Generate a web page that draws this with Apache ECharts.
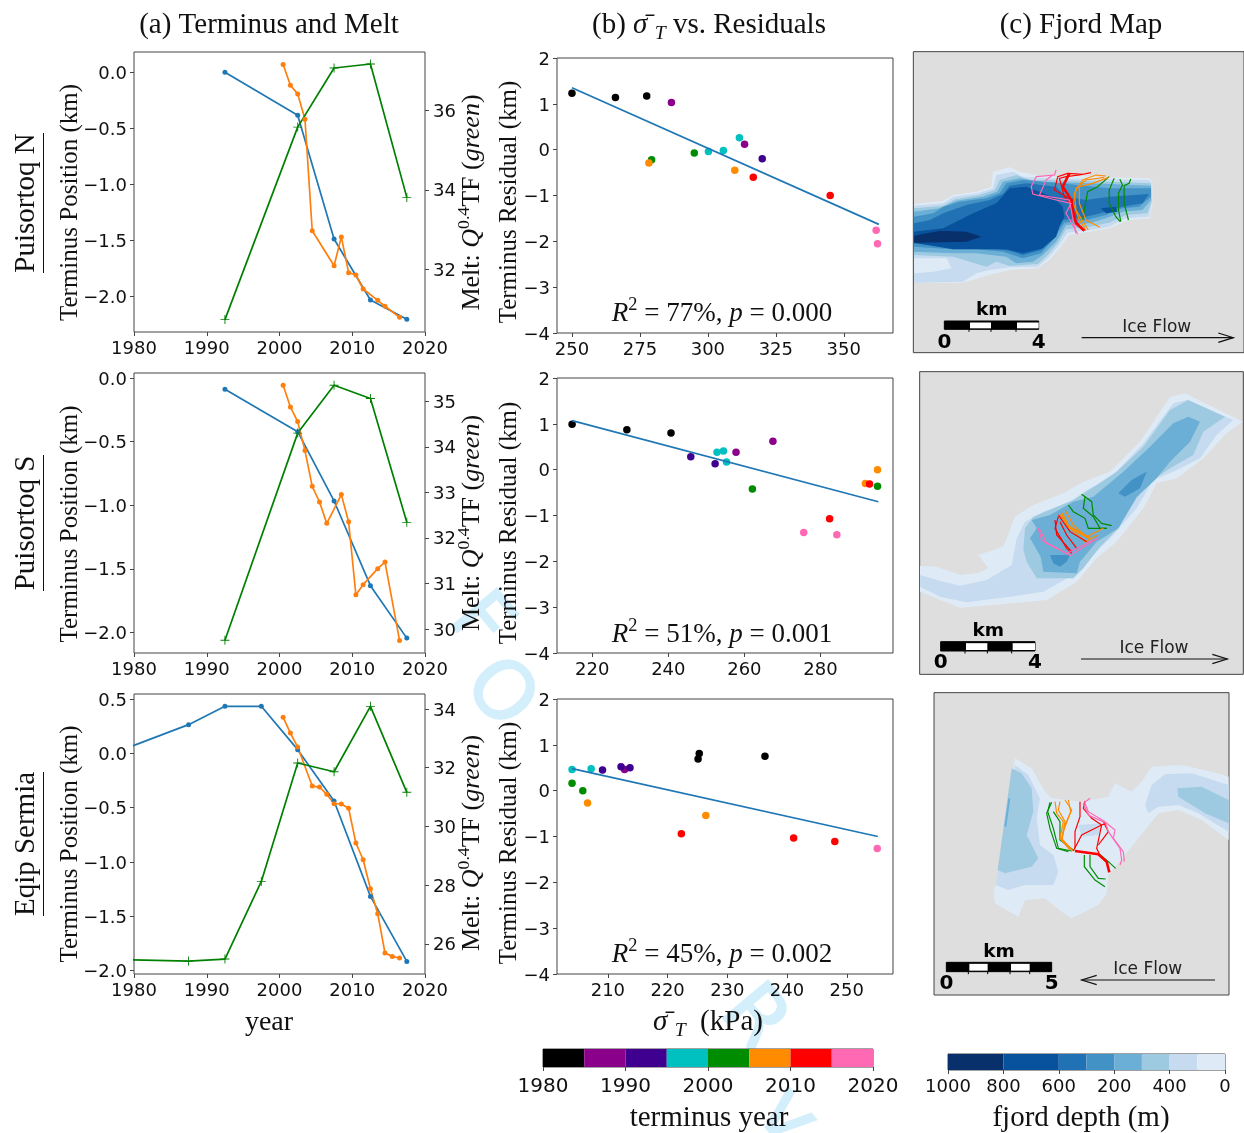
<!DOCTYPE html>
<html>
<head>
<meta charset="utf-8">
<style>html,body{margin:0;padding:0;background:#fff}#chart{width:1244px;height:1133px}</style>
<script src="https://cdn.jsdelivr.net/npm/echarts@6/dist/echarts.min.js"></script>
</head>
<body>
<div id="chart"></div>
<script>
// colour scales
var yearEdges = [1980, 1985, 1990, 1995, 2000, 2005, 2010, 2015, 2020];
var yearColors = ['#000000', '#8b008b', '#3f0090', '#00c0c0', '#008c00', '#ff8c00', '#ff0000', '#ff69b4'];
var depthEdges = [0, 1, 2, 2.5, 3, 3.5, 4, 4.5, 5];
var depthColors = ['#08306b', '#08519c', '#2171b5', '#4292c6', '#6baed6', '#9ecae1', '#c6dbef', '#deebf7'];
var depthTickLabels = ['1000', '800', '600', '200', '400', '0'];

// (a) terminus position and melt
var blueYearsN = [1992.5, 2002.5, 2007.5, 2012.5, 2017.5];
var blueN = [0, -0.383, -1.489, -2.033, -2.205];
var orangeYearsN = [2000.5, 2001.5, 2002.5, 2003.5, 2004.5, 2007.5, 2008.5, 2009.5, 2010.5, 2011.5, 2013.5, 2014.5, 2016.5];
var orangeN = [0.07, -0.116, -0.193, -0.419, -1.415, -1.727, -1.47, -1.789, -1.81, -1.935, -2.036, -2.089, -2.187];
var greenN = [30.75, 35.57, 37.05, 37.15, 33.81];

var blueYearsS = [1992.5, 2002.5, 2007.5, 2012.5, 2017.5];
var blueS = [-0.089, -0.422, -0.967, -1.633, -2.045];
var orangeYearsS = [2000.5, 2001.5, 2002.5, 2003.5, 2004.5, 2005.5, 2006.5, 2008.5, 2009.5, 2010.5, 2011.5, 2013.5, 2014.5, 2016.5];
var orangeS = [-0.058, -0.228, -0.343, -0.571, -0.852, -0.975, -1.143, -0.917, -1.13, -1.704, -1.625, -1.499, -1.447, -2.063];
var greenS = [29.75, 34.3, 35.35, 35.06, 32.34];

var blueYearsE = [1977.5, 1987.5, 1992.5, 1997.5, 2002.5, 2007.5, 2012.5, 2017.5];
var blueE = [0.01, 0.264, 0.433, 0.433, 0.034, -0.439, -1.316, -1.914];
var orangeYearsE = [2000.5, 2001.5, 2002.5, 2004.5, 2005.5, 2006.5, 2007.5, 2008.5, 2009.5, 2010.5, 2011.5, 2012.5, 2013.5, 2014.5, 2015.5, 2016.5];
var orangeE = [0.331, 0.187, 0.058, -0.301, -0.31, -0.377, -0.463, -0.466, -0.506, -0.825, -0.979, -1.245, -1.475, -1.837, -1.868, -1.883];
var greenE = [25.46, 25.41, 25.48, 28.125, 32.16, 31.86, 34.09, 31.16];

// (b) stress vs residuals
var stressN = [250, 266, 277.5, 286.6, 313.5, 320, 300.2, 305.7, 311.6, 295, 279.3, 278.3, 309.9, 316.7, 345, 361.9, 362.4];
var residN = [1.23, 1.14, 1.17, 1.03, 0.12, -0.2, -0.04, -0.02, 0.26, -0.07, -0.22, -0.29, -0.45, -0.6, -1, -1.76, -2.05];
var stressYearsN = [1982, 1982, 1982, 1987, 1987, 1992, 1997, 1997, 1997, 2002, 2002, 2007, 2007, 2012, 2012, 2017, 2017];
var fitXN = [250, 362.9];
var fitYN = [1.35, -1.63];

var stressS = [214.7, 229.1, 240.7, 257.8, 267.5, 245.9, 252.3, 252.8, 254.5, 255.3, 262.1, 295, 291.8, 295, 292.9, 282.4, 275.6, 284.3];
var residS = [0.99, 0.87, 0.8, 0.38, 0.62, 0.28, 0.13, 0.38, 0.41, 0.17, -0.42, -0.36, -0.3, 0, -0.31, -1.07, -1.37, -1.42];
var stressYearsS = [1982, 1982, 1982, 1987, 1987, 1992, 1992, 1997, 1997, 1997, 2002, 2002, 2007, 2007, 2012, 2012, 2017, 2017];
var fitXS = [214.7, 295.2];
var fitYS = [1.07, -0.7];

var stressE = [225.3, 225.1, 236.3, 212.8, 209.1, 212.2, 213.7, 204, 207.2, 204, 205.8, 206.6, 226.4, 222.3, 241.1, 248, 255.1];
var residE = [0.81, 0.69, 0.75, 0.46, 0.45, 0.52, 0.5, 0.46, 0.48, 0.16, 0, -0.27, -0.54, -0.94, -1.03, -1.11, -1.26];
var stressYearsE = [1982, 1982, 1982, 1987, 1992, 1992, 1992, 1997, 1997, 2002, 2002, 2007, 2007, 2012, 2012, 2012, 2017];
var fitXE = [204, 255.2];
var fitYE = [0.48, -1];

// (c) fjord depth bands, painted shallow to deep (band index into depthColors)
var bandsN = [7, 6, 7, 5, 4, 3, 2, 1, 1, 0];
var polysN = [
  [[12,492],[100,482],[130,465],[200,455],[245,440],[250,395],[300,382],[330,395],[380,405],[420,408],[460,410],[520,408],[600,412],[720,415],[730,425],[730,490],[722,535],[660,540],[600,565],[540,575],[480,585],[455,620],[420,660],[385,685],[300,690],[240,705],[160,728],[12,728]],
  [[12,497],[100,490],[130,470],[205,460],[250,445],[260,405],[310,395],[340,410],[420,415],[600,418],[720,420],[728,430],[728,488],[720,530],[650,535],[600,560],[540,570],[475,578],[450,615],[415,655],[385,680],[300,682],[240,690],[200,700],[160,725],[12,728]],
  [[12,655],[110,655],[125,685],[70,695],[12,700]],
  [[12,505],[100,497],[135,478],[210,465],[255,450],[270,420],[320,405],[360,420],[420,420],[600,425],[725,430],[728,485],[715,520],[650,525],[600,548],[540,560],[470,568],[445,610],[410,650],[385,672],[300,678],[260,665],[230,680],[130,650],[12,645]],
  [[12,515],[90,505],[140,482],[220,470],[262,455],[280,425],[330,415],[400,425],[600,432],[726,437],[726,480],[700,510],[640,515],[590,535],[540,550],[470,555],[440,605],[400,645],[370,665],[320,670],[290,650],[200,640],[130,640],[12,635]],
  [[12,530],[70,520],[100,500],[150,485],[230,475],[270,460],[290,430],[340,420],[450,430],[600,445],[726,445],[726,470],[690,500],[640,505],[590,525],[530,540],[465,548],[430,600],[395,640],[340,655],[310,645],[280,635],[200,628],[130,628],[12,620]],
  [[12,550],[60,540],[100,520],[170,495],[240,480],[280,462],[300,437],[350,430],[440,440],[470,470],[530,480],[600,470],[720,462],[700,490],[640,500],[590,515],[530,530],[460,540],[430,590],[395,630],[340,645],[300,632],[200,620],[130,625],[12,610]],
  [[12,575],[100,565],[190,520],[260,490],[300,445],[350,440],[430,470],[460,500],[465,530],[450,560],[440,590],[400,625],[340,640],[290,628],[130,628],[12,608]],
  [[575,505],[620,500],[625,515],[590,520]],
  [[12,587],[90,572],[170,575],[215,590],[170,605],[12,608]]
];
var bandsS = [7, 6, 5, 4, 3, 3];
var polysS = [
  [[30,603],[80,605],[150,630],[200,625],[235,610],[205,570],[280,545],[315,455],[370,420],[460,385],[520,350],[600,320],[690,230],[780,95],[825,85],[998,170],[950,205],[880,280],[800,340],[740,355],[700,430],[620,530],[560,580],[500,650],[410,705],[250,720],[150,728],[30,680]],
  [[30,630],[100,650],[150,662],[230,645],[305,600],[320,520],[345,470],[400,440],[480,410],[530,375],[600,340],[700,235],[790,115],[830,105],[970,165],[920,210],[870,280],[790,320],[730,345],[680,430],[610,510],[550,570],[480,635],[400,680],[300,695],[170,712],[90,695],[30,665]],
  [[340,555],[345,490],[370,455],[490,405],[545,370],[620,320],[700,245],[780,135],[835,105],[945,155],[880,200],[850,270],[780,310],[730,345],[680,400],[625,490],[570,545],[520,610],[490,640],[380,640],[350,590]],
  [[365,465],[420,450],[490,410],[550,395],[640,320],[720,245],[790,175],[835,155],[870,170],[840,230],[780,290],[735,345],[680,395],[625,490],[560,530],[510,590],[500,625],[400,620],[392,575],[360,520],[380,490]],
  [[420,570],[480,570],[470,590],[450,605],[430,595]],
  [[625,385],[665,345],[710,320],[690,370],[645,395]]
];
var bandsE = [7, 6, 6, 6, 5, 5, 4];
var polysE = [
  [[205,620],[215,590],[270,220],[320,250],[360,320],[380,340],[470,350],[550,335],[570,295],[620,320],[650,290],[680,245],[770,240],[860,260],[911,275],[911,465],[830,405],[760,375],[700,385],[660,435],[600,510],[550,570],[545,625],[520,660],[440,700],[410,680],[360,640],[300,645],[280,695],[210,655]],
  [[212,600],[225,520],[270,240],[310,270],[345,340],[335,400],[345,480],[385,510],[400,560],[385,600],[300,600],[250,615]],
  [[660,360],[680,300],[720,268],[800,265],[911,300],[911,440],[820,385],[760,360],[700,365],[670,385]],
  [[460,420],[530,415],[520,450],[470,455]],
  [[218,555],[260,250],[290,265],[320,310],[325,380],[305,450],[340,520],[320,545],[240,565]],
  [[757,310],[830,305],[911,345],[911,415],[840,385],[760,335]],
  [[238,425],[250,340],[256,340],[244,425]]
];

// (c) terminus traces
var traceYearsN = [2002, 2002, 2002, 2002, 2007, 2007, 2007, 2012, 2012, 2012, 2017, 2017];
var tracesN = [
  [[615,415],[600,450],[600,490],[620,530],[633,545]],
  [[632,418],[640,435],[628,460],[628,510],[635,545]],
  [[665,417],[660,430],[645,437],[645,490],[658,540]],
  [[600,410],[565,440],[535,455],[525,510],[520,540]],
  [[598,412],[550,430],[510,440],[510,490],[530,540],[572,562]],
  [[590,408],[560,405],[520,420],[495,460],[500,510],[537,570]],
  [[585,412],[530,420],[500,445],[492,490],[510,540],[530,572]],
  [[545,398],[510,405],[470,410],[450,415],[465,470],[490,500],[495,540],[525,572]],
  [[520,403],[475,400],[445,410],[435,450],[490,480],[490,530],[520,570]],
  [[480,400],[460,440],[480,470],[488,500],[500,550],[525,572]],
  [[440,390],[435,405],[380,410],[365,440],[370,462],[440,480],[485,490],[470,520],[505,582]],
  [[430,405],[410,420],[390,465],[480,480],[495,560],[500,580]]
];
var traceYearsS = [2002, 2002, 2002, 2007, 2007, 2007, 2012, 2012, 2012, 2012, 2017, 2017];
var tracesS = [
  [[515,388],[545,410],[550,450],[575,475],[605,482]],
  [[525,395],[520,430],[550,455],[570,490],[590,490]],
  [[475,420],[490,440],[525,460],[535,490],[590,490]],
  [[465,435],[490,480],[530,515],[580,490]],
  [[450,450],[480,490],[525,530],[565,510]],
  [[455,445],[475,485],[540,520]],
  [[445,455],[435,490],[470,550],[485,565]],
  [[435,465],[440,510],[485,560]],
  [[450,470],[470,510],[500,550]],
  [[445,450],[480,500],[530,530]],
  [[385,490],[395,525],[480,572],[565,518]],
  [[390,495],[410,535],[470,565],[550,525]]
];
var traceYearsE = [2002, 2002, 2002, 2002, 2002, 2002, 2007, 2007, 2007, 2007, 2012, 2012, 2012, 2012, 2012, 2017, 2017];
var tracesE = [
  [[375,352],[368,380],[385,430],[400,490],[440,498]],
  [[380,352],[365,385],[375,430],[395,490],[430,500]],
  [[385,380],[405,410],[405,465],[445,495]],
  [[478,510],[478,545],[510,585],[540,605]],
  [[495,510],[495,545],[520,580],[542,582]],
  [[520,505],[550,530],[572,550]],
  [[390,350],[395,385],[415,410],[405,460],[435,495]],
  [[405,350],[400,375],[420,410],[410,460],[440,495]],
  [[420,345],[440,375],[420,420],[410,465],[445,498]],
  [[430,345],[437,380],[415,440],[410,470]],
  [[465,350],[465,395],[450,440],[450,490]],
  [[445,498],[470,450],[530,420],[545,415]],
  [[480,348],[475,370],[500,400],[530,420],[515,490],[522,505]],
  [[535,410],[550,440],[520,480]],
  [[450,498],[520,508],[545,530],[553,562]],
  [[495,340],[475,355],[490,390],[545,415],[570,435],[565,460],[595,500],[598,530]],
  [[478,350],[490,380],[540,410],[550,440],[585,490],[590,525],[585,540]]
];

var TICK_FONT = 'DejaVu Sans';
var SERIF = 'Liberation Serif';
var SPINE = '#444';
var PLUS = 'path://M4.5 0h1v4.5h4.5v1h-4.5v4.5h-1v-4.5h-4.5v-1h4.5z';

var grids = [], xAxes = [], yAxes = [], series = [], gfx = [];

function zip(xs, ys) {
  return xs.map(function (x, i) { return [x, ys[i]]; });
}
function yearColor(y) {
  return yearColors[Math.floor((y - 1980) / 5)];
}
function minus(s) {
  return String(s).replace('-', '\u2212');
}

function addGrid(l, t, w, h) {
  grids.push({ left: l, top: t, width: w, height: h, show: true, backgroundColor: '#fff', borderColor: SPINE, borderWidth: 1, containLabel: false });
  return grids.length - 1;
}
function valueAxis(grid, min, max, ticks, fmt, margin, size) {
  return {
    type: 'value', gridIndex: grid, min: min, max: max, scale: true,
    splitLine: { show: false },
    axisLine: { show: false, onZero: false },
    axisTick: { show: true, length: 4, lineStyle: { color: SPINE }, customValues: ticks },
    axisLabel: { customValues: ticks, formatter: fmt, margin: margin, color: '#111', fontFamily: TICK_FONT, fontSize: size || 18 }
  };
}
function yAxisOf(grid, min, max, ticks, fmt, margin, pos) {
  var a = valueAxis(grid, min, max, ticks, fmt, margin);
  a.position = pos;
  // nudges the digits down onto the tick
  a.axisLabel.verticalAlign = 'top';
  a.axisLabel.lineHeight = 4;
  return a;
}
function oneDec(v) { return minus(v.toFixed(1)); }
function plain(v) { return minus(v); }

// one terminus / melt panel with its twin axis
function terminusPanel(p) {
  var g = addGrid(134, p.top, 291, 280);
  var ax = valueAxis(g, 1980, 2020, [1980, 1990, 2000, 2010, 2020], plain, 8);
  ax.position = 'bottom';
  xAxes.push(ax);
  var xi = xAxes.length - 1;
  yAxes.push(yAxisOf(g, p.yMin, p.yMax, p.leftTicks, oneDec, 7, 'left'));
  var li = yAxes.length - 1;
  yAxes.push(yAxisOf(g, p.rMin, p.rMax, p.rightTicks, plain, 8, 'right'));
  var ri = yAxes.length - 1;
  function line(data, color, yi, symbol, size) {
    series.push({
      type: 'line', xAxisIndex: xi, yAxisIndex: yi, data: data, clip: true, animation: false,
      symbol: symbol, symbolSize: size, showSymbol: true,
      lineStyle: { color: color, width: 1.7 }, itemStyle: { color: color, borderWidth: 0 }
    });
  }
  line(zip(p.blueX, p.blue), '#1f77b4', li, 'circle', 5);
  line(zip(p.orangeX, p.orange), '#ff7f0e', li, 'circle', 5);
  line(zip(p.greenX, p.green), '#008000', ri, PLUS, 9);
}
terminusPanel({ top: 52, yMin: -2.319, yMax: 0.181, leftTicks: [-2, -1.5, -1, -0.5, 0], rMin: 30.44, rMax: 37.45, rightTicks: [32, 34, 36],
  blueX: blueYearsN, blue: blueN, orangeX: orangeYearsN, orange: orangeN, greenX: blueYearsN, green: greenN });
terminusPanel({ top: 373, yMin: -2.162, yMax: 0.039, leftTicks: [-2, -1.5, -1, -0.5, 0], rMin: 29.47, rMax: 35.62, rightTicks: [30, 31, 32, 33, 34, 35],
  blueX: blueYearsS, blue: blueS, orangeX: orangeYearsS, orange: orangeS, greenX: blueYearsS, green: greenS });
terminusPanel({ top: 694, yMin: -2.03, yMax: 0.546, leftTicks: [-2, -1.5, -1, -0.5, 0, 0.5], rMin: 24.97, rMax: 34.51, rightTicks: [26, 28, 30, 32, 34],
  blueX: blueYearsE, blue: blueE, orangeX: orangeYearsE, orange: orangeE, greenX: blueYearsE, green: greenE });

// one residual scatter panel
function scatterPanel(p) {
  var g = addGrid(557, p.top, 336, 275);
  var ax = valueAxis(g, p.xMin, p.xMax, p.xTicks, plain, 8);
  ax.position = 'bottom';
  xAxes.push(ax);
  var xi = xAxes.length - 1;
  yAxes.push(yAxisOf(g, -4, 2, [-4, -3, -2, -1, 0, 1, 2], plain, 7, 'left'));
  var yi = yAxes.length - 1;
  series.push({
    type: 'scatter', xAxisIndex: xi, yAxisIndex: yi, animation: false, symbolSize: 7.5,
    data: p.x.map(function (v, i) { return [v, p.y[i], p.years[i]]; }),
    itemStyle: { opacity: 1, color: function (d) { return yearColor(d.data[2]); } }
  });
  series.push({
    type: 'line', xAxisIndex: xi, yAxisIndex: yi, animation: false, showSymbol: false, symbol: 'none',
    data: zip(p.fitX, p.fitY), lineStyle: { color: '#1f77b4', width: 1.7 }
  });
}
scatterPanel({ top: 58, xMin: 244.5, xMax: 368.1, xTicks: [250, 275, 300, 325, 350], x: stressN, y: residN, years: stressYearsN, fitX: fitXN, fitY: fitYN });
scatterPanel({ top: 378, xMin: 210.73, xMax: 299.07, xTicks: [220, 240, 260, 280], x: stressS, y: residS, years: stressYearsS, fitX: fitXS, fitY: fitYS });
scatterPanel({ top: 699, xMin: 201.48, xMax: 257.74, xTicks: [210, 220, 230, 240, 250], x: stressE, y: residE, years: stressYearsE, fitX: fitXE, fitY: fitYE });

// fjord map panel, axis units are the 3x crop pixels the outlines were read from
function mapPanel(p) {
  var l = p.ox + p.x0 / 3, t = p.oy + p.y0 / 3;
  var g = addGrid(l, t, (p.x1 - p.x0) / 3, (p.y1 - p.y0) / 3);
  grids[g].backgroundColor = '#dedede';
  xAxes.push({ type: 'value', gridIndex: g, min: p.x0, max: p.x1, show: false });
  yAxes.push({ type: 'value', gridIndex: g, min: p.y0, max: p.y1, inverse: true, show: false });
  var xi = xAxes.length - 1, yi = yAxes.length - 1;
  series.push({
    type: 'custom', xAxisIndex: xi, yAxisIndex: yi, animation: false, silent: true, clip: true,
    data: p.polys.map(function (_, i) { return [i, 0]; }),
    encode: { x: 0, y: 1 },
    renderItem: function (params, api) {
      var i = api.value(0);
      return {
        type: 'polygon',
        shape: { points: p.polys[i].map(function (pt) { return api.coord(pt); }) },
        style: { fill: depthColors[p.bands[i]] }
      };
    }
  });
  series.push({
    type: 'custom', xAxisIndex: xi, yAxisIndex: yi, animation: false, silent: true, clip: true, z: 3,
    data: p.traces.map(function (_, i) { return [i, 0]; }),
    encode: { x: 0, y: 1 },
    renderItem: function (params, api) {
      var i = api.value(0);
      return {
        type: 'polyline',
        shape: { points: p.traces[i].map(function (pt) { return api.coord(pt); }) },
        style: { fill: null, stroke: yearColor(p.traceYears[i]), lineWidth: i === p.thick ? 2.6 : 1.2 }
      };
    }
  });
}
mapPanel({ ox: 910, oy: 40, x0: 10, x1: 1006, y0: 35, y1: 938, polys: polysN, bands: bandsN, traces: tracesN, traceYears: traceYearsN, thick: 9 });
mapPanel({ ox: 910, oy: 365, x0: 29, x1: 1000, y0: 20, y1: 928, polys: polysS, bands: bandsS, traces: tracesS, traceYears: traceYearsS, thick: 5 });
mapPanel({ ox: 925, oy: 685, x0: 27, x1: 912, y0: 23, y1: 930, polys: polysE, bands: bandsE, traces: tracesE, traceYears: traceYearsE, thick: 14 });

// colour bars
function colorBar(l, t, w, h, edges, colors, ticks, fmt, margin, size) {
  var g = addGrid(l, t, w, h);
  var ax = valueAxis(g, edges[0], edges[edges.length - 1], ticks, fmt, margin, size);
  ax.position = 'bottom';
  xAxes.push(ax);
  yAxes.push({ type: 'value', gridIndex: g, min: 0, max: 1, show: false });
  series.push({
    type: 'custom', xAxisIndex: xAxes.length - 1, yAxisIndex: yAxes.length - 1, animation: false, silent: true,
    data: colors.map(function (c, i) { return [edges[i], edges[i + 1]]; }),
    encode: { x: [0, 1] },
    renderItem: function (params, api) {
      var a = api.coord([api.value(0), 1]), b = api.coord([api.value(1), 0]);
      return { type: 'rect', shape: { x: a[0], y: a[1], width: b[0] - a[0], height: b[1] - a[1] }, style: { fill: colors[params.dataIndex] } };
    }
  });
}
colorBar(543, 1049, 330, 18, yearEdges, yearColors, [1980, 1990, 2000, 2010, 2020], plain, 10, 20);
colorBar(948, 1054, 277, 16, depthEdges, depthColors, [0, 1, 2, 3, 4, 5], function (v) { return depthTickLabels[v]; }, 8, 18);

// text helpers
function txt(x, y, text, size, o) {
  o = o || {};
  return {
    type: 'text', x: x, y: y, rotation: o.rot || 0, z: o.z === undefined ? 50 : o.z, silent: true,
    style: {
      text: text, fontFamily: o.font || SERIF, fontSize: size, fontWeight: o.weight || 'normal', fill: o.fill || '#111',
      stroke: o.stroke, lineWidth: o.stroke ? 2 : 0,
      align: 'center', verticalAlign: 'middle', rich: o.rich
    }
  };
}
var UP = Math.PI / 2;
function richSet(size) {
  return {
    n: { fontFamily: SERIF, fontSize: size, fill: '#111', lineHeight: size + 8, verticalAlign: 'middle' },
    i: { fontFamily: SERIF, fontStyle: 'italic', fontSize: size, fill: '#111', lineHeight: size + 8, verticalAlign: 'middle' },
    u: { fontFamily: SERIF, fontSize: size * 0.68, fill: '#111', lineHeight: size + 8, verticalAlign: 'top' },
    d: { fontFamily: SERIF, fontStyle: 'italic', fontSize: size * 0.68, fill: '#111', lineHeight: size + 8, verticalAlign: 'bottom' }
  };
}

gfx.push(txt(269, 25.5, '(a) Terminus and Melt', 29));
gfx.push(txt(709, 25.5, '{n|(b) }{i|\u03c3\u0304\u00a0}{d|T}{n| vs. Residuals}', 29, { rich: richSet(29) }));
gfx.push(txt(1081, 25.5, '(c) Fjord Map', 29));
gfx.push(txt(269, 1022.5, 'year', 28));
gfx.push(txt(708, 1022.5, '{i|\u03c3\u0304\u00a0}{d|T}{n|\u00a0 (kPa)}', 29, { rich: richSet(29) }));
gfx.push(txt(709, 1118.5, 'terminus year', 29));
gfx.push(txt(1081, 1118.5, 'fjord depth (m)', 29));

var rowNames = ['Puisortoq N', 'Puisortoq S', 'Eqip Sermia'];
var rowNameY = [203, 523, 844];
var rowLineY = [[133, 273], [455, 591], [772, 916]];
var labelY = [202.5, 524, 844];
var residLabelY = [202, 523, 843];
var statText = ['{i|R}{u|2}{n| = 77%, }{i|p}{n| = 0.000}', '{i|R}{u|2}{n| = 51%, }{i|p}{n| = 0.001}', '{i|R}{u|2}{n| = 45%, }{i|p}{n| = 0.002}'];
var statY = [314, 634.5, 954.5];
rowNames.forEach(function (name, i) {
  gfx.push(txt(26, rowNameY[i], name, 29, { rot: UP }));
  gfx.push({ type: 'line', z: 50, silent: true, shape: { x1: 43.5, y1: rowLineY[i][0], x2: 43.5, y2: rowLineY[i][1] }, style: { stroke: '#111', lineWidth: 1 } });
  gfx.push(txt(70.5, labelY[i], 'Terminus Position (km)', 25, { rot: UP }));
  gfx.push(txt(472, labelY[i] + (i ? -1 : 0), '{n|Melt: }{i|Q}{u|0.4}{n|TF (}{i|green}{n|)}', 26, { rot: UP, rich: richSet(26) }));
  gfx.push(txt(509.5, residLabelY[i], 'Terminus Residual (km)', 25, { rot: UP }));
  gfx.push(txt(722, statY[i], statText[i], 27, { rich: richSet(27) }));
});

// scale bars and flow arrows, coordinates in the same 3x crop pixels
function scaleBar(m) {
  function X(v) { return m.ox + v / 3; }
  function Y(v) { return m.oy + v / 3; }
  gfx.push({ type: 'rect', z: 50, silent: true, shape: { x: X(m.bar[0]), y: Y(m.y0), width: (m.bar[m.bar.length - 1] - m.bar[0]) / 3, height: (m.y1 - m.y0) / 3 }, style: { fill: '#000', stroke: '#000', lineWidth: 1 } });
  for (var i = 1; i < m.bar.length - 1; i++) {
    gfx.push({ type: 'line', z: 50, silent: true, shape: { x1: X(m.bar[i]), y1: Y(m.y1), x2: X(m.bar[i]), y2: Y(m.y1) + 2.5 }, style: { stroke: '#000', lineWidth: 1 } });
    if (i % 2 == 1) {
      gfx.push({ type: 'rect', z: 51, silent: true, shape: { x: X(m.bar[i]) + 1, y: Y(m.y0) + 1.5, width: (m.bar[i + 1] - m.bar[i]) / 3 - 1, height: (m.y1 - m.y0) / 3 - 2.5 }, style: { fill: '#fff' } });
    }
  }
  gfx.push(txt(X(m.kmX), Y(m.kmY) + 1, 'km', 18.5, { font: TICK_FONT, weight: 'bold', fill: '#000' }));
  gfx.push(txt(X(m.bar[0]), Y(m.numY) + 1, '0', 20, { font: TICK_FONT, weight: 'bold', fill: '#000' }));
  gfx.push(txt(X(m.bar[m.bar.length - 1]), Y(m.numY) + 1, m.end, 20, { font: TICK_FONT, weight: 'bold', fill: '#000' }));
  gfx.push(txt(X(m.flowX), Y(m.flowY) + 1, 'Ice Flow', 17, { font: TICK_FONT, fill: '#222' }));
  var a = m.arrow;
  gfx.push({ type: 'line', z: 50, silent: true, shape: { x1: X(a[0]), y1: Y(a[2]), x2: X(a[1]), y2: Y(a[2]) }, style: { stroke: '#111', lineWidth: 1.2 } });
  var dir = a[1] > a[0] ? -1 : 1;
  gfx.push({ type: 'polyline', z: 50, silent: true, shape: { points: [[X(a[1] + dir * 45), Y(a[2] - 14)], [X(a[1]), Y(a[2])], [X(a[1] + dir * 45), Y(a[2] + 14)]] }, style: { fill: null, stroke: '#111', lineWidth: 1.2 } });
}
scaleBar({ ox: 910, oy: 40, bar: [103, 177, 243, 318, 386], y0: 843, y1: 868, kmX: 245, kmY: 808, numY: 905, end: '4', flowX: 740, flowY: 860, arrow: [515, 970, 893] });
scaleBar({ ox: 910, oy: 365, bar: [92, 165, 232, 305, 375], y0: 830, y1: 858, kmX: 235, kmY: 797, numY: 890, end: '4', flowX: 732, flowY: 848, arrow: [513, 952, 882] });
scaleBar({ ox: 925, oy: 685, bar: [64, 130, 188, 255, 314, 380], y0: 832, y1: 860, kmX: 222, kmY: 798, numY: 893, end: '5', flowX: 668, flowY: 850, arrow: [870, 470, 885] });

// review watermark, sits under the axes so only the margins show it
var markLetters = ['F', 'O', 'R', 'v'];
var markX = [478, 498, 752, 785];
var markY = [624, 695, 1020, 1118];
markLetters.forEach(function (c, i) {
  gfx.push(txt(markX[i], markY[i], c, 80, { font: TICK_FONT, fill: '#d4effc', stroke: '#d4effc', rot: -50 * Math.PI / 180, z: -5 }));
});

var myChart = echarts.init(document.getElementById('chart'), null, { renderer: 'canvas' });
myChart.setOption({
  animation: false,
  backgroundColor: '#fff',
  tooltip: { show: false },
  grid: grids,
  xAxis: xAxes,
  yAxis: yAxes,
  series: series,
  graphic: { elements: gfx }
});
</script>
</body>
</html>
